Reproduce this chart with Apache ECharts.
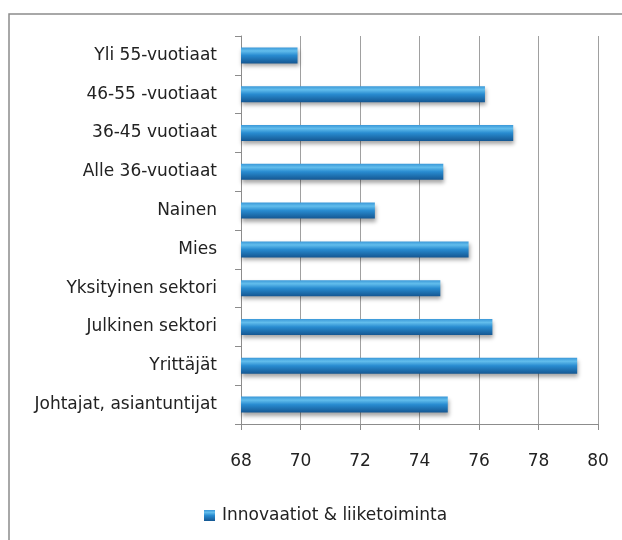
<!DOCTYPE html>
<html>
<head>
<meta charset="utf-8">
<style>
  html, body { margin: 0; padding: 0; background: #fff; }
  #chart { width: 622px; height: 540px; }
</style>
<script src="https://cdn.jsdelivr.net/npm/echarts@6/dist/echarts.min.js"></script>
</head>
<body>
<div id="chart"></div>
<script>
// top to bottom, as in the picture
var categories = ['Yli 55-vuotiaat', '46-55 -vuotiaat', '36-45 vuotiaat', 'Alle 36-vuotiaat',
    'Nainen', 'Mies', 'Yksityinen sektori', 'Julkinen sektori', 'Yrittäjät', 'Johtajat, asiantuntijat'];
var values = [69.9, 76.2, 77.15, 74.8, 72.5, 75.65, 74.7, 76.45, 79.3, 74.95];
var seriesName = 'Innovaatiot & liiketoiminta';

var barColor = new echarts.graphic.LinearGradient(0, 0, 0, 1, [
    { offset: 0, color: '#3a98d8' },
    { offset: 0.22, color: '#62bdec' },
    { offset: 0.5, color: '#288bd0' },
    { offset: 1, color: '#155792' }
]);

var chart = echarts.init(document.getElementById('chart'));
chart.setOption({
    animation: false,
    textStyle: { fontFamily: 'DejaVu Sans', color: '#222' },
    graphic: [{
        type: 'rect',
        shape: { x: 9, y: 14, width: 700, height: 600 },
        style: { fill: 'none', stroke: '#8c8c8c', lineWidth: 1.5 },
        silent: true
    }],
    grid: { left: 241, right: 24, top: 36, bottom: 116 },
    legend: {
        bottom: 11,
        left: 199,
        icon: 'rect',
        itemWidth: 11,
        itemHeight: 11,
        itemGap: 6,
        textStyle: { fontSize: 17, color: '#222', fontFamily: 'DejaVu Sans', padding: [0, 0, 0, 2] },
        data: [seriesName]
    },
    xAxis: {
        type: 'value',
        min: 68,
        max: 80,
        interval: 2,
        axisLine: { show: true, lineStyle: { color: '#8c8c8c' } },
        axisTick: { show: true, length: 6, lineStyle: { color: '#8c8c8c' } },
        axisLabel: { fontSize: 17, color: '#222', margin: 29 },
        splitLine: { show: true, lineStyle: { color: '#a0a0a0', width: 1 } }
    },
    yAxis: {
        type: 'category',
        inverse: true,
        data: categories,
        axisLine: { show: true, lineStyle: { color: '#8c8c8c' } },
        axisTick: { show: true, length: 6, lineStyle: { color: '#8c8c8c' } },
        axisLabel: { fontSize: 17, color: '#222', margin: 24 }
    },
    series: [{
        name: seriesName,
        type: 'bar',
        data: values,
        barWidth: 16,
        itemStyle: {
            color: barColor,
            shadowColor: 'rgba(0,0,0,0.35)',
            shadowBlur: 4,
            shadowOffsetX: 1,
            shadowOffsetY: 3
        }
    }]
});
</script>
</body>
</html>
